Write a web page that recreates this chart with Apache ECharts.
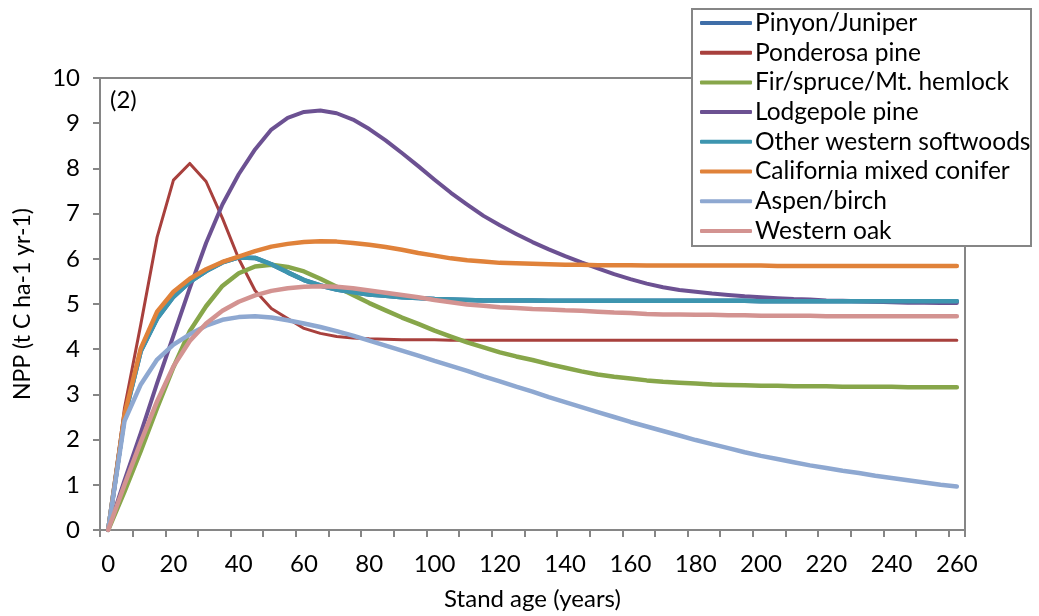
<!DOCTYPE html>
<html>
<head>
<meta charset="utf-8">
<script src="https://cdn.jsdelivr.net/npm/echarts@6/dist/echarts.min.js"></script>
<style>html,body{margin:0;padding:0;background:#fff}#c{width:1039px;height:616px}</style>
</head>
<body>
<div id="c"></div>
<script>
var ages = [];
for (var a = 0; a <= 260; a += 5) ages.push(String(a));

var seriesNames = ["Pinyon/Juniper","Ponderosa pine","Fir/spruce/Mt. hemlock","Lodgepole pine","Other western softwoods","California mixed conifer","Aspen/birch","Western oak"];
var seriesColors = ["#3F6EA8","#A8403D","#87A64A","#6C5192","#3D95AF","#E0823A","#8EA8D1","#D39391"];

var pinyonJuniper = [0,2.5,3.96,4.68,5.16,5.49,5.73,5.92,6.03,6.02,5.88,5.7,5.53,5.41,5.32,5.26,5.21,5.18,5.15,5.13,5.11,5.1,5.09,5.08,5.08,5.08,5.08,5.07,5.07,5.07,5.07,5.07,5.07,5.07,5.07,5.07,5.07,5.07,5.07,5.07,5.06,5.06,5.06,5.06,5.06,5.06,5.06,5.06,5.06,5.06,5.06,5.06,5.06];
var ponderosaPine = [0,2.7,4.55,6.48,7.74,8.11,7.71,6.9,6.0,5.3,4.9,4.68,4.46,4.35,4.28,4.25,4.23,4.22,4.21,4.21,4.21,4.2,4.2,4.2,4.2,4.2,4.2,4.2,4.2,4.2,4.2,4.2,4.2,4.2,4.2,4.2,4.2,4.2,4.2,4.2,4.2,4.2,4.2,4.2,4.2,4.2,4.2,4.2,4.2,4.2,4.2,4.2,4.2];
var firSpruce = [0,0.85,1.75,2.7,3.6,4.4,4.95,5.4,5.68,5.83,5.87,5.82,5.72,5.56,5.38,5.2,5.02,4.86,4.7,4.56,4.41,4.28,4.15,4.04,3.93,3.84,3.76,3.67,3.59,3.51,3.44,3.39,3.35,3.31,3.28,3.26,3.24,3.22,3.21,3.2,3.19,3.19,3.18,3.18,3.18,3.17,3.17,3.17,3.17,3.16,3.16,3.16,3.16];
var lodgepolePine = [0,1.1,2.15,3.25,4.3,5.35,6.35,7.2,7.87,8.42,8.86,9.12,9.25,9.28,9.22,9.08,8.87,8.62,8.34,8.05,7.75,7.46,7.2,6.95,6.74,6.55,6.37,6.21,6.06,5.92,5.79,5.66,5.55,5.45,5.37,5.31,5.27,5.23,5.2,5.17,5.15,5.13,5.11,5.1,5.08,5.07,5.06,5.05,5.04,5.03,5.03,5.02,5.02];
var otherWestern = [0,2.5,3.96,4.68,5.16,5.49,5.73,5.92,6.03,6.02,5.88,5.7,5.53,5.41,5.32,5.26,5.21,5.18,5.15,5.13,5.11,5.1,5.09,5.08,5.08,5.08,5.08,5.07,5.07,5.07,5.07,5.07,5.07,5.07,5.07,5.07,5.07,5.07,5.07,5.07,5.06,5.06,5.06,5.06,5.06,5.06,5.06,5.06,5.06,5.06,5.06,5.06,5.06];
var californiaMixed = [0,2.55,4.02,4.83,5.27,5.56,5.77,5.93,6.05,6.17,6.27,6.33,6.37,6.39,6.38,6.35,6.31,6.26,6.2,6.13,6.07,6.01,5.97,5.94,5.91,5.9,5.89,5.88,5.87,5.87,5.86,5.86,5.86,5.85,5.85,5.85,5.85,5.85,5.85,5.85,5.85,5.84,5.84,5.84,5.84,5.84,5.84,5.84,5.84,5.84,5.84,5.84,5.84];
var aspenBirch = [0,2.41,3.22,3.77,4.1,4.33,4.52,4.65,4.71,4.73,4.7,4.64,4.57,4.49,4.4,4.3,4.19,4.08,3.97,3.86,3.74,3.63,3.52,3.4,3.29,3.17,3.06,2.94,2.83,2.72,2.61,2.5,2.39,2.29,2.19,2.09,1.99,1.9,1.81,1.72,1.64,1.57,1.5,1.43,1.37,1.31,1.26,1.2,1.15,1.1,1.05,1.0,0.96];
var westernOak = [0,1.0,1.95,2.85,3.62,4.18,4.57,4.85,5.05,5.19,5.29,5.35,5.38,5.39,5.38,5.35,5.3,5.25,5.2,5.15,5.09,5.04,4.99,4.96,4.93,4.91,4.89,4.88,4.86,4.85,4.83,4.81,4.8,4.78,4.77,4.77,4.76,4.76,4.75,4.75,4.74,4.74,4.74,4.74,4.73,4.73,4.73,4.73,4.73,4.73,4.73,4.73,4.73];

var seriesData = [pinyonJuniper, ponderosaPine, firSpruce, lodgepolePine, otherWestern, californiaMixed, aspenBirch, westernOak];
var lineWidths = [4.5, 3, 4.5, 4, 4.5, 4.5, 4.5, 4.5];

var FONT = "Lato";
var chart = echarts.init(document.getElementById('c'), null, {renderer: 'canvas'});

var series = seriesNames.map(function (n, i) {
  return {
    name: n, type: 'line', data: seriesData[i], symbol: 'none', smooth: false,
    lineStyle: {color: seriesColors[i], width: lineWidths[i], cap: 'round', join: 'round'},
    itemStyle: {color: seriesColors[i]}, z: 2 + i * 0.01
  };
});

chart.setOption({
  animation: false,
  backgroundColor: '#fff',
  textStyle: {fontFamily: FONT, color: '#000'},
  grid: {left: 100, top: 78, right: 74, bottom: 83, show: true, borderColor: '#868686', borderWidth: 2, containLabel: false},
  xAxis: {
    type: 'category', data: ages, boundaryGap: true,
    name: 'Stand age (years)', nameLocation: 'middle', nameGap: 57,
    nameTextStyle: {fontSize: 24, color: '#000', fontFamily: FONT},
    axisLine: {lineStyle: {color: '#868686', width: 2}},
    axisTick: {show: true, interval: 1, length: 7, lineStyle: {color: '#868686', width: 2}},
    axisLabel: {interval: 3, fontSize: 24, color: '#000', margin: 22, fontFamily: FONT},
    splitLine: {show: false}
  },
  yAxis: {
    type: 'value', min: 0, max: 10, interval: 1,
    name: 'NPP (t C ha-1 yr-1)', nameLocation: 'middle', nameGap: 66, nameRotate: 90,
    nameTextStyle: {fontSize: 23, color: '#000', fontFamily: FONT},
    axisLine: {show: true, lineStyle: {color: '#868686', width: 2}},
    axisTick: {show: true, length: 7, lineStyle: {color: '#868686', width: 2}},
    axisLabel: {fontSize: 24, color: '#000', margin: 20, fontFamily: FONT},
    splitLine: {show: false}
  },
  legend: {
    orient: 'vertical', left: 700, top: 10, itemWidth: 52, itemHeight: 4, itemGap: 3.7,
    icon: 'roundRect', padding: 0, z: 20,
    textStyle: {fontSize: 24.5, lineHeight: 26, color: '#000', fontFamily: FONT, padding: [0,0,0,-2]},
    data: seriesNames.map(function (n, i) { return {name: n, itemStyle: {color: seriesColors[i]}}; })
  },
  graphic: [
    {type: 'rect', z: 15, shape: {x: 692, y: 9, width: 339, height: 237}, style: {fill: '#fff', stroke: '#868686', lineWidth: 2}},
    {type: 'text', z: 15, left: 110, top: 88, style: {text: '(2)', font: '24px Lato', fill: '#000'}}
  ],
  series: series
});
</script>
</body>
</html>
